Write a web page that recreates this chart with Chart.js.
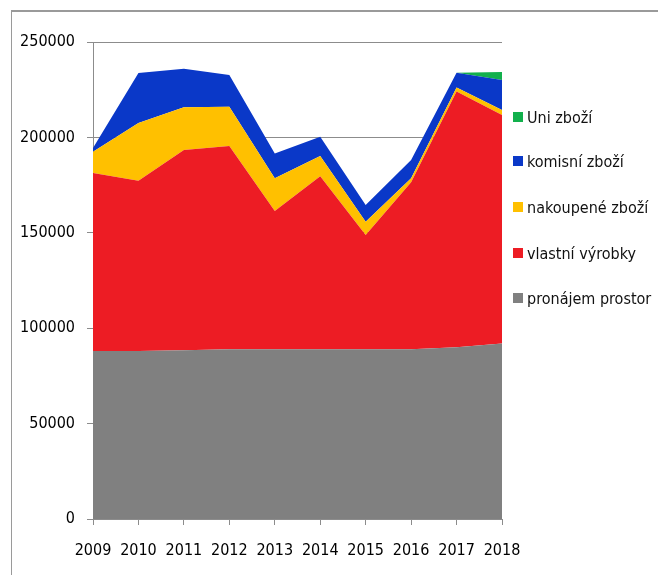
<!DOCTYPE html>
<html>
<head>
<meta charset="utf-8">
<script src="https://cdn.jsdelivr.net/npm/chart.js@4/dist/chart.umd.min.js"></script>
<style>
  html,body{margin:0;padding:0;background:#fff;}
  #wrap{position:relative;width:658px;height:575px;overflow:hidden;}
  #frame{position:absolute;left:11px;top:10px;width:660px;height:600px;border-left:1px solid #9a9a9a;border-top:2px solid #9a9a9a;box-sizing:border-box;}
  canvas{position:absolute;left:0;top:0;}
  #legend{position:absolute;left:513px;top:0;font-family:'Liberation Sans Narrow','DejaVu Sans Condensed',sans-serif;font-size:16px;color:#111;}
  .li{position:absolute;left:0;white-space:nowrap;display:flex;align-items:center;}
  .sw{width:10px;height:10px;margin-right:4px;display:inline-block;}
</style>
</head>
<body>
<div id="wrap">
  <div id="frame"></div>
  <canvas id="c" width="658" height="575"></canvas>
  <div id="legend"></div>
</div>
<script>
const categories = ['2009','2010','2011','2012','2013','2014','2015','2016','2017','2018'];
const pronajemProstor = [88000, 88000, 88500, 89000, 89000, 89000, 89000, 89000, 90000, 92000];
const vlastniVyrobky  = [93300, 89300, 104900, 106500, 72400, 90600, 59800, 87500, 134000, 119700];
const nakoupeneZbozi  = [11200, 30200, 22400, 20600, 17200, 10700, 7000, 2100, 2200, 2700];
const komisniZbozi    = [2000, 26300, 20200, 16600, 13000, 10100, 8800, 9600, 7700, 15700];
const uniZbozi        = [0, 0, 0, 0, 0, 0, 0, 0, 0, 4200];
const yTicks = [0, 50000, 100000, 150000, 200000, 250000];

const seriesNames = ['pronájem prostor','vlastní výrobky','nakoupené zboží','komisní zboží','Uni zboží'];
const seriesData = [pronajemProstor, vlastniVyrobky, nakoupeneZbozi, komisniZbozi, uniZbozi];
const seriesColors = ['#808080','#ED1C24','#FFC000','#0A38C8','#12B04C'];

const FONT = "'Liberation Sans Narrow','DejaVu Sans Condensed',sans-serif";

const datasets = seriesData.map((d,i)=>({
  label: seriesNames[i],
  data: d,
  backgroundColor: seriesColors[i],
  borderColor: seriesColors[i],
  borderWidth: 0,
  pointRadius: 0,
  tension: 0,
  fill: i===0 ? 'origin' : '-1'
}));

new Chart(document.getElementById('c'), {
  type: 'line',
  data: { labels: categories, datasets },
  options: {
    responsive: false,
    animation: false,
    layout: { padding: { left: 0, top: 42, right: 156, bottom: 0 } },
    plugins: { legend: { display: false }, tooltip: { enabled: false } },
    scales: {
      x: {
        offset: false,
        grid: { drawOnChartArea: false, drawTicks: true, tickLength: 6, color: '#8c8c8c' },
        border: { display: true, color: '#8c8c8c' },
        ticks: { color: '#000', font: { family: FONT, size: 16 }, padding: 16, maxRotation: 0, autoSkip: false },
        afterFit: s => { s.height = 56; }
      },
      y: {
        stacked: true,
        min: 0, max: 250000,
        afterBuildTicks: s => { s.ticks = yTicks.map(v=>({value:v})); },
        grid: { color: '#8c8c8c', lineWidth: 1, tickLength: 6 },
        border: { display: true, color: '#8c8c8c' },
        ticks: { color: '#000', font: { family: FONT, size: 16 }, padding: 12, callback: v => String(v) },
        afterFit: s => { s.width = 93; }
      }
    }
  }
});

// HTML legend (reverse order)
const legendTops = [117, 161, 207, 253, 298];
const lg = document.getElementById('legend');
for (let k=0;k<seriesNames.length;k++){
  const i = seriesNames.length-1-k;
  const div = document.createElement('div');
  div.className='li';
  div.style.top = (legendTops[k]-11)+'px';
  div.style.height='22px';
  const sw = document.createElement('span');
  sw.className='sw'; sw.style.background=seriesColors[i];
  div.appendChild(sw);
  div.appendChild(document.createTextNode(seriesNames[i]));
  lg.appendChild(div);
}
</script>
</body>
</html>
